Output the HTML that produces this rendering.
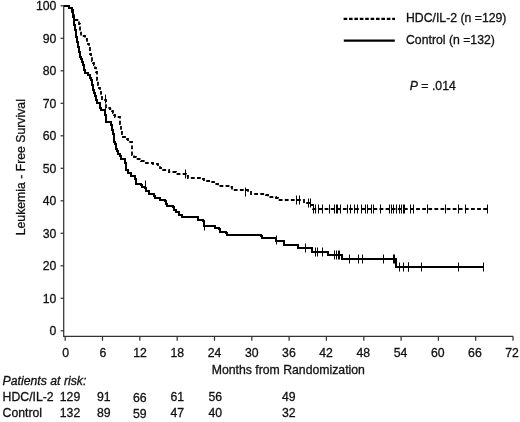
<!DOCTYPE html>
<html><head><meta charset="utf-8"><title>Leukemia-Free Survival</title>
<style>html,body{margin:0;padding:0;background:#fff}svg{display:block}text{font-family:"Liberation Sans",Arial,sans-serif;font-size:12.25px;fill:#111;stroke:#111;stroke-width:0.3px}</style></head>
<body>
<svg width="520" height="422" viewBox="0 0 520 422">
<rect width="520" height="422" fill="#fff"/>
<g stroke="#333" stroke-width="1.25" fill="none">
<path d="M63.7,5V336.4H513.3"/>
<path d="M60.6,330.8H63.7"/>
<path d="M60.6,298.3H63.7"/>
<path d="M60.6,265.8H63.7"/>
<path d="M60.6,233.3H63.7"/>
<path d="M60.6,200.8H63.7"/>
<path d="M60.6,168.3H63.7"/>
<path d="M60.6,135.8H63.7"/>
<path d="M60.6,103.3H63.7"/>
<path d="M60.6,70.8H63.7"/>
<path d="M60.6,38.3H63.7"/>
<path d="M60.6,5.8H63.7"/>
<path d="M65.2,336.4V340.7"/>
<path d="M102.5,336.4V340.7"/>
<path d="M139.8,336.4V340.7"/>
<path d="M177.2,336.4V340.7"/>
<path d="M214.5,336.4V340.7"/>
<path d="M251.8,336.4V340.7"/>
<path d="M289.1,336.4V340.7"/>
<path d="M326.4,336.4V340.7"/>
<path d="M363.8,336.4V340.7"/>
<path d="M401.1,336.4V340.7"/>
<path d="M438.4,336.4V340.7"/>
<path d="M475.7,336.4V340.7"/>
<path d="M513.0,336.4V340.7"/>
</g>
<g text-anchor="end">
<text x="56.4" y="335.4">0</text>
<text x="56.4" y="302.9">10</text>
<text x="56.4" y="270.4">20</text>
<text x="56.4" y="237.9">30</text>
<text x="56.4" y="205.4">40</text>
<text x="56.4" y="172.9">50</text>
<text x="56.4" y="140.4">60</text>
<text x="56.4" y="107.9">70</text>
<text x="56.4" y="75.4">80</text>
<text x="56.4" y="42.9">90</text>
<text x="56.4" y="10.4">100</text>
</g>
<g text-anchor="middle">
<text x="65.7" y="356.6">0</text>
<text x="102.9" y="356.6">6</text>
<text x="140.1" y="356.6">12</text>
<text x="177.3" y="356.6">18</text>
<text x="214.5" y="356.6">24</text>
<text x="251.7" y="356.6">30</text>
<text x="288.9" y="356.6">36</text>
<text x="326.1" y="356.6">42</text>
<text x="363.3" y="356.6">48</text>
<text x="400.5" y="356.6">54</text>
<text x="437.7" y="356.6">60</text>
<text x="474.9" y="356.6">66</text>
<text x="512.1" y="356.6">72</text>
</g>
<text transform="translate(25.4,235.3) rotate(-90)">Leukemia - Free Survival</text>
<text x="211.7" y="374.2">Months from Randomization</text>
<path d="M64,6H68H69V8H72V9V12H73V14H74V17V20H79V22V24H80V27V29V31H81V34V36H85V39H87V42H88V44H89V46H90V48V51V54H91V56H92V58V61H93V63H94V65H95V68H96V70V72H97V75V77V80H98V82V85H99V88H100V90H101V93V95H102V98V100H106V103V105V108H110V109H112V111H113V113H114V115H115V117H120V119V122V124H121V127V129V132H122V134H123V137H127V139H128V142H132V144V147V150V152V155H134V157H136V159H141V161H146V163H153V164H158V165H160V168H161V170H169V172H176V174H185H186V176H188V178H201V179H204V181H211V182H214V184H218V186H230V187H232V190H245H248V192H251V194H266V195H268V197H276V198H278V200H300H304V203H311V205H313V207V209H488" fill="none" stroke="#000" stroke-width="1.8" stroke-dasharray="3.8,2.3" stroke-linejoin="miter"/>
<path d="M105.5,94.5V103.5M185.5,169.5V178.5M245.5,187.5V196.5M296.5,195.5V204.5M299.5,195.5V204.5M308.5,198.5V207.5M310.5,198.5V207.5M313.5,204.5V213.5M315.5,204.5V213.5M318.5,204.5V213.5M322.5,204.5V213.5M329.5,204.5V213.5M334.5,204.5V213.5M336.5,204.5V213.5M337.5,204.5V213.5M340.5,204.5V213.5M347.5,204.5V213.5M350.5,204.5V213.5M354.5,204.5V213.5M357.5,204.5V213.5M361.5,204.5V213.5M365.5,204.5V213.5M367.5,204.5V213.5M371.5,204.5V213.5M373.5,204.5V213.5M380.5,204.5V213.5M389.5,204.5V213.5M391.5,204.5V213.5M393.5,204.5V213.5M396.5,204.5V213.5M399.5,204.5V213.5M401.5,204.5V213.5M403.5,204.5V213.5M404.5,204.5V213.5M410.5,204.5V213.5M413.5,204.5V213.5M427.5,204.5V213.5M445.5,204.5V213.5M458.5,204.5V213.5M465.5,204.5V213.5M487.5,204.5V213.5" fill="none" stroke="#000" stroke-width="1"/>
<path d="M64,6H68H69V8H72V10H73V13V15V17H74V20V22V25H75V27V30H76V32V35V37H77V40V42H78V45V47H79V49V52H80V54V57H81V59H82V62H83V65H84V68V70H85V73H88V75H90V78H91V80H92V83V85H93V88V90H94V93H95V96H96V98V100H97V103H100V106V108H101V110H105V113V115H106V118V120V122H111V125H112V127V130H113V132V134H114V137V140V142H115V144H116V146V149H117V151H118V154H120V156H121V159H125V161V163H126V166V168V170H128V173H131V176H135V179H136V182V184H141V185H142V187H145V188H146V191H149V194H154V196H155V198H160V200H165V201H166V204H167V206H173V207H174V210H176V212H179V215H182V217H198V218V220H203V221H204V224V226H214H215V228H219V229H220V232H226V233H227V235H261V236H262V238H275H276V241H284V243V245H298V246V248H312V250V252H328V255H342V257V259H396V262V264V267H483" fill="none" stroke="#000" stroke-width="2" stroke-linejoin="miter"/>
<path d="M145.5,180.5V189.5M204.5,221.5V230.5M276.5,235.5V244.5M305.5,243.5V252.5M315.5,247.5V256.5M317.5,247.5V256.5M322.5,247.5V256.5M334.5,250.5V259.5M336.5,250.5V259.5M338.5,250.5V259.5M339.5,250.5V259.5M349.5,254.5V263.5M358.5,254.5V263.5M362.5,254.5V263.5M383.5,254.5V263.5M393.5,254.5V263.5M394.5,254.5V263.5M399.5,262.5V271.5M403.5,262.5V271.5M408.5,262.5V271.5M408.5,262.5V271.5M421.5,262.5V271.5M458.5,262.5V271.5M483.5,262.5V271.5" fill="none" stroke="#000" stroke-width="1"/>
<path d="M343.6,18.9H395" stroke="#000" stroke-width="2.1" stroke-dasharray="3.6,1.8" fill="none"/>
<path d="M343.8,40.7H394.8" stroke="#000" stroke-width="2.2" fill="none"/>
<text x="406" y="22.2">HDC/IL-2 (n =129)</text>
<text x="406" y="43.8">Control (n =132)</text>
<text x="409.8" y="90.2"><tspan font-style="italic">P</tspan> = .014</text>
<text x="2.6" y="384.5" font-style="italic">Patients at risk:</text>
<text x="2.6" y="400.9">HDC/IL-2</text>
<text x="2.6" y="416.6">Control</text>
<g text-anchor="middle">
<text x="70.0" y="400.9">129</text>
<text x="70.0" y="416.6">132</text>
<text x="103.8" y="400.9">91</text>
<text x="103.8" y="416.6">89</text>
<text x="139.8" y="402.0">66</text>
<text x="139.8" y="417.7">59</text>
<text x="177.3" y="400.9">61</text>
<text x="177.3" y="416.6">47</text>
<text x="215.2" y="400.9">56</text>
<text x="215.2" y="416.6">40</text>
<text x="288.8" y="400.9">49</text>
<text x="288.8" y="416.6">32</text>
</g>
</svg>
</body></html>
